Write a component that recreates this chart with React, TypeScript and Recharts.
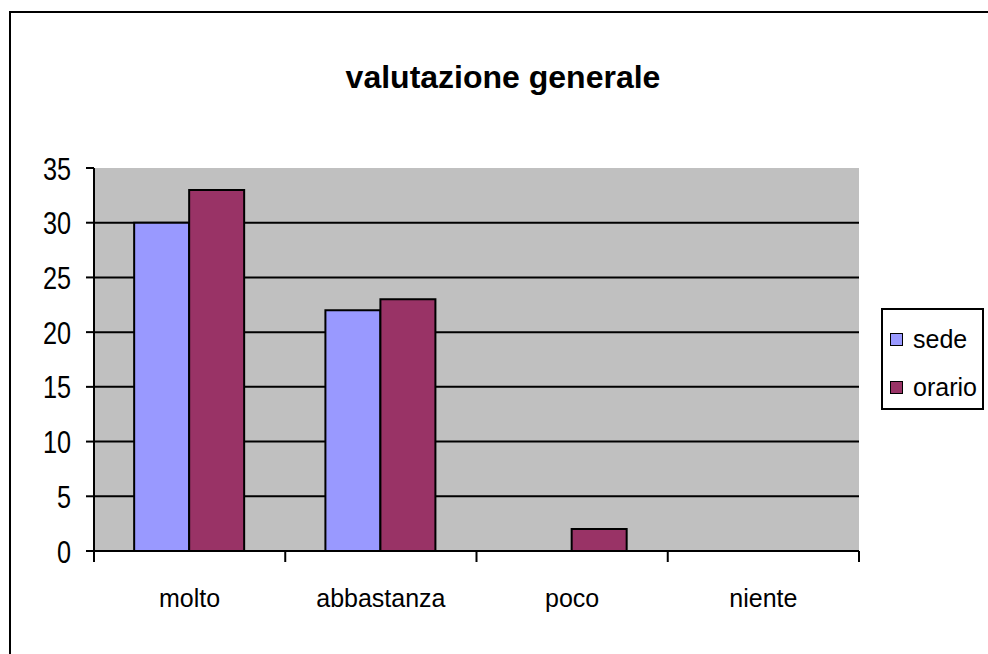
import { Bar, BarChart, CartesianGrid, XAxis, YAxis } from "recharts";

const CATEGORIES = ["molto", "abbastanza", "poco", "niente"];
const SEDE = [30, 22, 0, 0];
const ORARIO = [33, 23, 2, 0];
const Y_TICKS = [0, 5, 10, 15, 20, 25, 30, 35];
const GRID_VALUES = [5, 10, 15, 20, 25, 30];

const SERIES = [
  { key: "sede", label: "sede", color: "#9999FF" },
  { key: "orario", label: "orario", color: "#993366" },
] as const;

const data = CATEGORIES.map((c, i) => ({ name: c, sede: SEDE[i], orario: ORARIO[i] }));

const FONT = "'Liberation Sans', Arial, sans-serif";
const BAND = (859 - 94) / CATEGORIES.length;

const YTick = (props: any) => {
  const { x, y, payload } = props;
  return (
    <g transform={`translate(${x},${y})`}>
      <text
        transform="scale(0.79,1)"
        textAnchor="end"
        dy="0.36em"
        fontSize={32}
        fontFamily={FONT}
        fill="#000"
      >
        {payload.value}
      </text>
    </g>
  );
};

const XTick = (props: any) => {
  const { x, y, payload, index } = props;
  const left = x - BAND / 2;
  return (
    <g>
      <line x1={left} x2={left} y1={y} y2={y + 11} stroke="#000" strokeWidth={2} />
      {index === CATEGORIES.length - 1 && (
        <line x1={left + BAND} x2={left + BAND} y1={y} y2={y + 11} stroke="#000" strokeWidth={2} />
      )}
      <text x={x} y={y + 56} textAnchor="middle" fontSize={25} fontFamily={FONT} fill="#000">
        {payload.value}
      </text>
    </g>
  );
};

export default function App() {
  return (
    <div
      style={{
        position: "absolute",
        left: 0,
        top: 0,
        width: 988,
        height: 654,
        overflow: "hidden",
        background: "#fff",
        fontFamily: FONT,
      }}
    >
      <div
        style={{
          position: "absolute",
          left: 9,
          top: 11,
          width: 1100,
          height: 800,
          border: "2px solid #000",
        }}
      />
      <div
        style={{
          position: "absolute",
          left: 0,
          top: 61,
          width: 1006,
          textAlign: "center",
          fontSize: 32,
          lineHeight: "32px",
          fontWeight: "bold",
          color: "#000",
        }}
      >
        valutazione generale
      </div>
      <div style={{ position: "absolute", left: 0, top: 0 }}>
        <BarChart
          width={988}
          height={654}
          data={data}
          margin={{ top: 168, right: 129, bottom: 43, left: 24 }}
          barGap={0}
          barCategoryGap="21%"
        >
          <CartesianGrid
            vertical={false}
            horizontalValues={GRID_VALUES}
            stroke="#000"
            strokeWidth={2}
            fill="#C0C0C0"
            fillOpacity={1}
          />
          <XAxis
            dataKey="name"
            height={60}
            tickLine={false}
            tickSize={0}
            tickMargin={0}
            axisLine={{ stroke: "#000", strokeWidth: 2 }}
            tick={<XTick />}
            interval={0}
          />
          <XAxis
            xAxisId="top"
            dataKey="name"
            orientation="top"
            height={0}
            tick={false}
            tickLine={false}
            axisLine={{ stroke: "#808080", strokeWidth: 2 }}
          />
          <YAxis
            width={70}
            domain={[0, 35]}
            ticks={Y_TICKS}
            interval={0}
            tickSize={8}
            tickMargin={15}
            tickLine={{ stroke: "#000", strokeWidth: 2 }}
            axisLine={{ stroke: "#000", strokeWidth: 2 }}
            tick={<YTick />}
          />
          <YAxis
            yAxisId="right"
            orientation="right"
            width={0}
            domain={[0, 35]}
            tick={false}
            tickLine={false}
            axisLine={{ stroke: "#808080", strokeWidth: 2 }}
          />
          {SERIES.map((s) => (
            <Bar
              key={s.key}
              dataKey={s.key}
              name={s.label}
              fill={s.color}
              stroke="#000"
              strokeWidth={2}
              isAnimationActive={false}
            />
          ))}
        </BarChart>
      </div>
      <div
        style={{
          position: "absolute",
          left: 881,
          top: 308,
          width: 103,
          height: 102,
          boxSizing: "border-box",
          border: "2px solid #000",
          background: "#fff",
        }}
      >
        {SERIES.map((s, i) => (
          <div
            key={s.key}
            style={{
              position: "absolute",
              left: 7,
              top: 14 + i * 48,
              height: 30,
              display: "flex",
              alignItems: "center",
              fontSize: 25,
              lineHeight: "30px",
              color: "#000",
            }}
          >
            <span
              style={{
                display: "inline-block",
                width: 13,
                height: 13,
                boxSizing: "border-box",
                background: s.color,
                border: "1px solid #000",
                marginRight: 10,
              }}
            />
            {s.label}
          </div>
        ))}
      </div>
    </div>
  );
}
